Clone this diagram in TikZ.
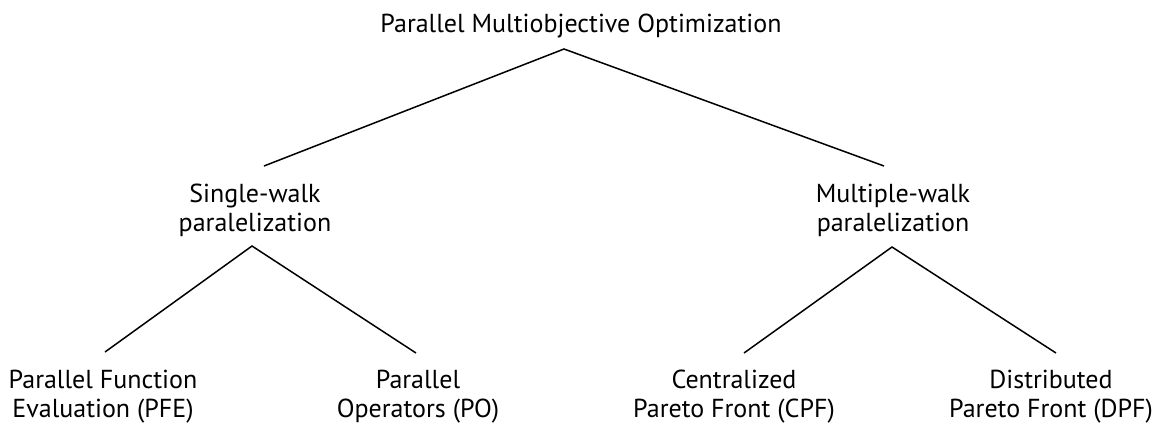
\documentclass[tikz,border=0pt]{standalone}
\usepackage{fontspec}
\setmainfont{PT Sans}
\begin{document}
\begin{tikzpicture}[x=1pt,y=-1pt,
  lbl/.style={align=center, font=\fontsize{26}{28.5}\selectfont, inner sep=0pt, anchor=base},
  edge/.style={line width=1.5pt}]
\useasboundingbox[fill=white] (0,0) rectangle (1158,424);
\node[lbl] (root) at (581,32) {Parallel Multiobjective Optimization};
\node[lbl] (sw) at (255,231) {Single-walk\\paralelization};
\node[lbl] (mw) at (893,231) {Multiple-walk\\paralelization};
\node[lbl] (pfe) at (103,417) {Parallel Function\\Evaluation (PFE)};
\node[lbl] (po) at (418,417) {Parallel\\Operators (PO)};
\node[lbl] (cpf) at (734,417) {Centralized\\Pareto Front (CPF)};
\node[lbl] (dpf) at (1051,417) {Distributed\\Pareto Front (DPF)};
\coordinate (r0) at (564,49);
\coordinate (swt) at (264,166);
\coordinate (mwt) at (884,166);
\coordinate (sw0) at (252,246);
\coordinate (mw0) at (892,247);
\coordinate (pfet) at (105,352);
\coordinate (pot) at (416,353);
\coordinate (cpft) at (744,353);
\coordinate (dpft) at (1056,353);
\draw[edge] (swt) -- (r0) -- (mwt);
\draw[edge] (pfet) -- (sw0) -- (pot);
\draw[edge] (cpft) -- (mw0) -- (dpft);
\end{tikzpicture}
\end{document}
